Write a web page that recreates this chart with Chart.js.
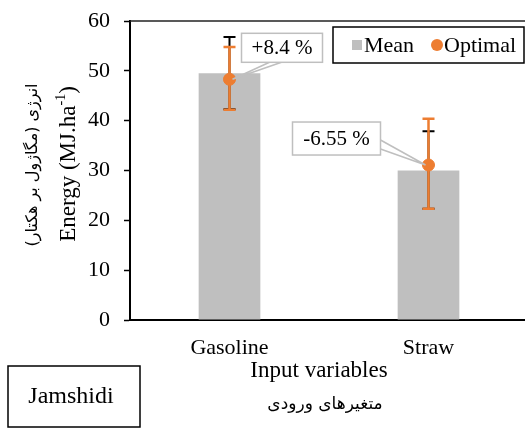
<!DOCTYPE html>
<html lang="en">
<head>
    <meta charset="UTF-8">
    <title>Energy - Input variables</title>
    <script src="https://cdn.jsdelivr.net/npm/chart.js"></script>
    <style>
        body { margin: 0; background: #fff; overflow: hidden; }
        .wrap { width: 535px; height: 428px; position: relative; }
    </style>
</head>
<body>
    <div class="wrap"><canvas id="chart"></canvas></div>

    <script>
        // data
        const categories = ['Gasoline', 'Straw'];
        const meanValues = [49.5, 30.0];
        const meanLow = [42.3, 22.3];
        const meanHigh = [56.8, 37.9];
        const optimalValues = [48.3, 31.1];
        const optimalLow = [42.2, 22.3];
        const optimalHigh = [54.8, 40.4];
        const changeLabels = ['+8.4 %', '-6.55 %'];
        const yTicks = [0, 10, 20, 30, 40, 50, 60];

        const serif = '"Liberation Serif", "Times New Roman", serif';
        const persian = '"DejaVu Sans", sans-serif';
        const gray = '#bfbfbf';
        const orange = '#ed7d31';

        // callout boxes: offset from the point, size
        const callouts = [
            { dx: 12, dy: -46, w: 81, h: 29 },
            { dx: -136, dy: -43, w: 88, h: 33 }
        ];

        function drawErrorBars(ctx, chart, low, high, color, lw) {
            const x = chart.scales.x, y = chart.scales.y;
            ctx.save();
            ctx.strokeStyle = color;
            ctx.lineWidth = lw;
            categories.forEach((c, i) => {
                const px = x.getPixelForValue(i);
                const y1 = y.getPixelForValue(low[i]);
                const y2 = y.getPixelForValue(high[i]);
                ctx.beginPath();
                ctx.moveTo(px, y1); ctx.lineTo(px, y2);
                ctx.moveTo(px - 6, y1); ctx.lineTo(px + 6, y1);
                ctx.moveTo(px - 6, y2); ctx.lineTo(px + 6, y2);
                ctx.stroke();
            });
            ctx.restore();
        }

        const decor = {
            id: 'decor',
            afterDatasetDraw(chart, args) {
                if (args.index !== 0) return;
                const ctx = chart.ctx;
                drawErrorBars(ctx, chart, meanLow, meanHigh, '#000', 2);
                drawErrorBars(ctx, chart, optimalLow, optimalHigh, orange, 2.5);
            },
            afterDatasetsDraw(chart) {
                const ctx = chart.ctx;
                const x = chart.scales.x, y = chart.scales.y;
                const area = chart.chartArea;

                // top border of the plot
                ctx.save();
                ctx.strokeStyle = '#222';
                ctx.lineWidth = 1.5;
                ctx.beginPath();
                ctx.moveTo(area.left, area.top);
                ctx.lineTo(area.right, area.top);
                ctx.stroke();

                // change labels with leader lines
                changeLabels.forEach((t, i) => {
                    const px = x.getPixelForValue(i);
                    const py = y.getPixelForValue(optimalValues[i]);
                    const c = callouts[i];
                    const bx = px + c.dx, by = py + c.dy;
                    ctx.strokeStyle = gray;
                    ctx.lineWidth = 1.5;
                    ctx.beginPath();
                    if (c.dx > 0) {
                        ctx.moveTo(bx + 28, by + c.h);
                        ctx.lineTo(px + 3, py);
                        ctx.lineTo(bx + 40, by + c.h);
                    } else {
                        ctx.moveTo(bx + c.w, by + c.h - 15);
                        ctx.lineTo(px - 3, py);
                        ctx.lineTo(bx + c.w, by + c.h - 6);
                    }
                    ctx.stroke();
                    ctx.fillStyle = '#fff';
                    ctx.fillRect(bx, by, c.w, c.h);
                    ctx.strokeRect(bx, by, c.w, c.h);
                    ctx.fillStyle = '#000';
                    ctx.font = '21px ' + serif;
                    ctx.textAlign = 'center';
                    ctx.textBaseline = 'middle';
                    ctx.fillText(t, bx + c.w / 2, by + c.h / 2 + 1);
                });

                // legend
                ctx.strokeStyle = '#000';
                ctx.lineWidth = 1.5;
                ctx.fillStyle = '#fff';
                ctx.fillRect(333, 27, 191, 36);
                ctx.strokeRect(333, 27, 191, 36);
                ctx.fillStyle = gray;
                ctx.fillRect(352, 40, 10, 10);
                ctx.fillStyle = orange;
                ctx.beginPath();
                ctx.arc(437, 45, 6, 0, Math.PI * 2);
                ctx.fill();
                ctx.fillStyle = '#000';
                ctx.font = '22px ' + serif;
                ctx.textAlign = 'left';
                ctx.textBaseline = 'middle';
                ctx.fillText('Mean', 364, 46);
                ctx.fillText('Optimal', 444, 46);

                // axis titles
                ctx.textAlign = 'center';
                ctx.font = '23px ' + serif;
                ctx.fillText('Input variables', 319, 371);
                ctx.font = '17px ' + persian;
                ctx.direction = 'rtl';
                ctx.fillText('متغیرهای ورودی', 325, 405);
                ctx.direction = 'ltr';

                // y title (rotated)
                ctx.save();
                ctx.translate(69, 164);
                ctx.rotate(-Math.PI / 2);
                ctx.font = '23px ' + serif;
                const a = 'Energy (MJ.ha', s = '-1', b = ')';
                const wa = ctx.measureText(a).width;
                const wb = ctx.measureText(b).width;
                ctx.font = '14px ' + serif;
                const ws = ctx.measureText(s).width;
                let sx = -(wa + ws + wb) / 2;
                ctx.textAlign = 'left';
                ctx.font = '23px ' + serif;
                ctx.fillText(a, sx, 0);
                ctx.font = '14px ' + serif;
                ctx.fillText(s, sx + wa, -8);
                ctx.font = '23px ' + serif;
                ctx.fillText(b, sx + wa + ws, 0);
                ctx.restore();

                ctx.save();
                ctx.translate(33, 165);
                ctx.rotate(-Math.PI / 2);
                ctx.font = '16px ' + persian;
                ctx.textAlign = 'center';
                ctx.direction = 'rtl';
                ctx.fillText('انرژی (مگاژول بر هکتار)', 0, 0);
                ctx.restore();

                // author box
                ctx.strokeStyle = '#000';
                ctx.lineWidth = 1.5;
                ctx.strokeRect(8, 366, 132, 61);
                ctx.font = '24px ' + serif;
                ctx.textAlign = 'center';
                ctx.fillText('Jamshidi', 71, 397);
                ctx.restore();
            }
        };

        new Chart(document.getElementById('chart'), {
            data: {
                labels: categories,
                datasets: [
                    {
                        type: 'bar',
                        label: 'Mean',
                        data: meanValues,
                        backgroundColor: gray,
                        barPercentage: 0.31,
                        categoryPercentage: 1,
                        order: 1
                    },
                    {
                        type: 'line',
                        label: 'Optimal',
                        data: optimalValues,
                        showLine: false,
                        pointRadius: 6,
                        pointBackgroundColor: orange,
                        pointBorderColor: orange,
                        order: 0
                    }
                ]
            },
            options: {
                responsive: true,
                maintainAspectRatio: false,
                animation: false,
                layout: { padding: { top: 21, right: 5, left: 0, bottom: 0 } },
                plugins: {
                    legend: { display: false },
                    tooltip: { enabled: false }
                },
                scales: {
                    x: {
                        afterFit(s) { s.height = 108; s.paddingLeft = 0; s.paddingRight = 0; },
                        grid: { display: false },
                        border: { display: true, color: '#000', width: 2 },
                        ticks: { color: '#000', padding: 7, font: { family: serif, size: 22 } }
                    },
                    y: {
                        min: 0,
                        max: 60,
                        afterFit(s) { s.width = 130; s.paddingTop = 0; s.paddingBottom = 0; },
                        afterBuildTicks(s) { s.ticks = yTicks.map(v => ({ value: v })); },
                        grid: { drawOnChartArea: false, drawTicks: true, tickLength: 6, tickColor: '#000', tickWidth: 1.5 },
                        border: { display: true, color: '#000', width: 2 },
                        ticks: { color: '#000', padding: 14, font: { family: serif, size: 22 } }
                    }
                }
            },
            plugins: [decor]
        });
    </script>
</body>
</html>
